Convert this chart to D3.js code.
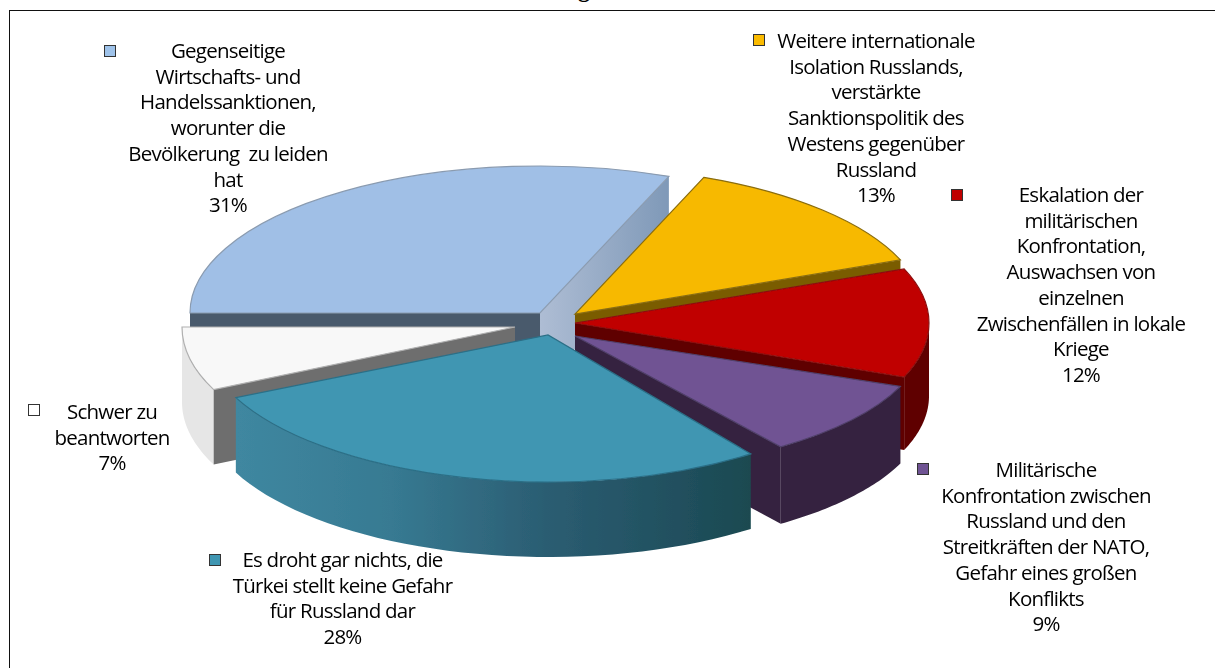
<!DOCTYPE html>
<html><head><meta charset="utf-8">
<script src="https://cdn.jsdelivr.net/npm/d3@7/dist/d3.min.js"></script>
<style>html,body{margin:0;padding:0;background:#fff;overflow:hidden}svg{display:block}</style>
</head><body><svg id="c" width="1215" height="668"></svg>
<script>
// --- data ---
const categories = ["blue","yellow","red","purple","teal","white"];
const values = [31,13,12,9,28,7];
const labels = [
 ["Gegenseitige","Wirtschafts- und","Handelssanktionen,","worunter die","Bevölkerung  zu leiden","hat","31%"],
 ["Weitere internationale","Isolation Russlands,","verstärkte","Sanktionspolitik des","Westens gegenüber","Russland","13%"],
 ["Eskalation der","militärischen","Konfrontation,","Auswachsen von","einzelnen","Zwischenfällen in lokale","Kriege","12%"],
 ["Militärische","Konfrontation zwischen","Russland und den","Streitkräften der NATO,","Gefahr eines großen","Konflikts","9%"],
 ["Es droht gar nichts, die","Türkei stellt keine Gefahr","für Russland dar","28%"],
 ["Schwer zu","beantworten","7%"]
];
// --- styling ---
const topColors  = ["#a0bfe6","#f7b900","#c00000","#6f5393","#3f96b2","#f8f8f8"];
const keyColors  = ["#9fc3ea","#fbbb00","#c00000","#6f5393","#3f96b2","#ffffff"];
const edgeColors = ["#8a9bb0","#8a6d10","#8c1010","#50406a","#2c6f87","#b0b0b0"];
// slice explosion, in px: centre x, centre y, radius x, radius y, wall height
const cx = [540,575,575,575,548,515];
const cy = [313,314,323,336,335,327];
const rx = [350,350,354,350,345,333];
const ry = [147,147,147,137,147,147];
const depth = [73,73,73,77,75,75];
const fontStack = "'Open Sans',sans-serif";
const labelX = [228,876,1081,1046,342.5,112];
const labelY = [51,41,195,470,560,412];
const keyX = [104,753,951,917,209,28];
const keyY = [45,34,189,463,554,404];
const lineH = 25.7;

const svg = d3.select("#c");
const defs = svg.append("defs");
defs.append("filter").attr("id","soft").attr("x","-5%").attr("y","-5%").attr("width","110%").attr("height","110%")
  .append("feGaussianBlur").attr("stdDeviation",0.6);
const tealGrad = defs.append("linearGradient").attr("id","tealWall").attr("gradientUnits","userSpaceOnUse")
  .attr("x1",237).attr("x2",751).attr("y1",0).attr("y2",0);
[[0,"#3f87a0"],[0.3,"#377a92"],[0.6,"#2b5d72"],[0.85,"#21505f"],[1,"#1b4a50"]].forEach(s=>tealGrad.append("stop").attr("offset",s[0]).attr("stop-color",s[1]));
const blueGrad = defs.append("linearGradient").attr("id","blueWall").attr("x1",0).attr("x2",1).attr("y1",0).attr("y2",0);
[[0,"#aebdd4"],[1,"#7f99b8"]].forEach(s=>blueGrad.append("stop").attr("offset",s[0]).attr("stop-color",s[1]));

// frame
svg.append("line").attr("x1",9.5).attr("x2",1215).attr("y1",10.5).attr("y2",10.5).attr("stroke","#111").attr("stroke-width",1);
svg.append("line").attr("x1",9.5).attr("x2",9.5).attr("y1",10).attr("y2",668).attr("stroke","#111").attr("stroke-width",1);

// title remnant, cut off by the top edge as in the reference
svg.append("text").attr("x",578).attr("y",-3).attr("font-family","'Liberation Serif',serif").attr("font-weight","bold").attr("font-size",24).attr("fill","#000").text("g");

const pie = d3.pie().sort(null).startAngle(-Math.PI/2).endAngle(1.5*Math.PI)(values);
const unit = 100;
const arc = d3.arc().innerRadius(0).outerRadius(unit);

const g = svg.append("g").attr("filter","url(#soft)");
const px = (i,a)=>cx[i]+rx[i]*Math.sin(a);
const py = (i,a)=>cy[i]-ry[i]*Math.cos(a);

function cutWall(i,a,fill){
  g.append("path").attr("d",d3.line()([[cx[i],cy[i]],[px(i,a),py(i,a)],[px(i,a),py(i,a)+depth[i]],[cx[i],cy[i]+depth[i]]])).attr("fill",fill);
}
function outerWall(i,a0,a1,fill){
  const pts=d3.range(0,41).map(k=>a0+(a1-a0)*k/40);
  const area=d3.area().x(a=>px(i,a)).y0(a=>py(i,a)).y1(a=>py(i,a)+depth[i]);
  g.append("path").attr("d",area(pts)).attr("fill",fill);
}
function topFace(i){
  g.append("path").attr("d",arc(pie[i]))
   .attr("transform",`translate(${cx[i]},${cy[i]}) scale(${rx[i]/unit},${ry[i]/unit})`)
   .attr("fill",topColors[i]).attr("stroke",edgeColors[i]).attr("stroke-width",1.2).attr("vector-effect","non-scaling-stroke");
}
// painter's order, back to front
cutWall(0,pie[0].startAngle,"#4a5a6c");
cutWall(0,pie[0].endAngle,"url(#blueWall)");
topFace(0);
cutWall(1,pie[1].endAngle,"#7a5c00");
topFace(1);
outerWall(2,Math.PI/2,pie[2].endAngle,"#5e0000");
cutWall(2,pie[2].endAngle,"#5e0000");
topFace(2);
cutWall(3,pie[3].endAngle,"#34233f");
outerWall(3,pie[3].startAngle,pie[3].endAngle,"#34233f");
topFace(3);
outerWall(5,pie[5].startAngle,pie[5].endAngle,"#e6e6e6");
cutWall(5,pie[5].startAngle,"#6e6e6e");
topFace(5);
outerWall(4,pie[4].startAngle,pie[4].endAngle,"url(#tealWall)");
topFace(4);

// labels and keys
const lg = svg.selectAll("g.lab").data(categories).join("g").attr("class","lab");
lg.append("rect").attr("x",(d,i)=>keyX[i]+.5).attr("y",(d,i)=>keyY[i]+.5).attr("width",11).attr("height",11)
  .attr("fill",(d,i)=>keyColors[i]).attr("stroke","#333").attr("stroke-width",1);
lg.each(function(d,i){
  const t=d3.select(this).append("text").attr("text-anchor","middle").attr("font-family",fontStack).attr("font-size",20.5).attr("fill","#000");
  t.attr("style","letter-spacing:-0.75px;white-space:pre");
  labels[i].forEach((s,k)=>t.append("tspan").attr("x",labelX[i]).attr("y",labelY[i]+k*lineH+7).text(s));
});
</script></body></html>
